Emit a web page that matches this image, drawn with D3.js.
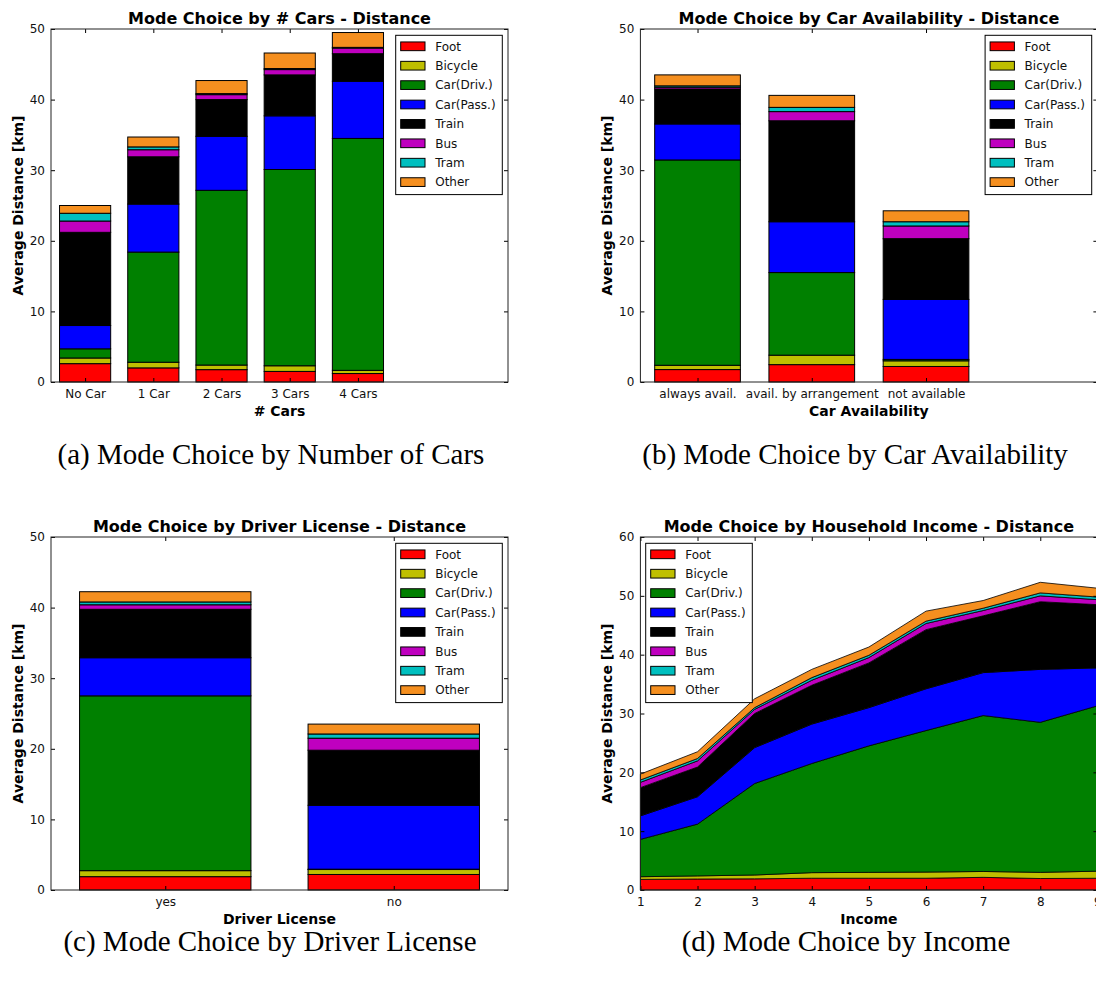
<!DOCTYPE html>
<html>
<head>
<meta charset="utf-8">
<script src="https://cdn.jsdelivr.net/npm/d3@7"></script>
<style>
  body { margin: 0; background: #fff; }
  svg text { font-family: "DejaVu Sans", sans-serif; }
</style>
</head>
<body>
<svg id="fig" width="1096" height="981"></svg>
<script>
// Travel modes, stacked bottom to top, and their fill colours
const modes = ["Foot", "Bicycle", "Car(Driv.)", "Car(Pass.)", "Train", "Bus", "Tram", "Other"];
const modeColors = ["#ff0000", "#bfbf00", "#008000", "#0000ff", "#000000", "#bf00bf", "#00bfbf", "#f58f1f"];

// (a) average distance [km] by number of cars; one row per mode
const carCategories = ["No Car", "1 Car", "2 Cars", "3 Cars", "4 Cars"];
const carValues = [
  [2.6, 2.0, 1.75, 1.5, 1.2],        // Foot
  [0.8, 0.8, 0.65, 0.8, 0.45],       // Bicycle
  [1.3, 15.6, 24.75, 27.8, 32.85],   // Car(Driv.)
  [3.3, 6.8, 7.65, 7.6, 8.1],        // Car(Pass.)
  [13.2, 6.7, 5.2, 5.8, 3.9],        // Train
  [1.6, 1.0, 0.7, 0.75, 0.8],        // Bus
  [1.1, 0.4, 0.15, 0.15, 0.1],       // Tram
  [1.1, 1.4, 1.85, 2.2, 2.1]         // Other
];

// (b) by car availability
const availCategories = ["always avail.", "avail. by arrangement", "not available"];
const availValues = [
  [1.76, 2.46, 2.2],
  [0.61, 1.34, 0.8],
  [29.08, 11.7, 0.2],
  [5.1, 7.2, 8.5],
  [4.95, 14.3, 8.6],
  [0.25, 1.3, 1.8],
  [0.2, 0.6, 0.6],
  [1.55, 1.7, 1.55]
];

// (c) by driver license
const licenseCategories = ["yes", "no"];
const licenseValues = [
  [1.89, 2.2],
  [0.85, 0.7],
  [24.76, 0.05],
  [5.4, 9.05],
  [6.86, 7.8],
  [0.64, 1.7],
  [0.4, 0.6],
  [1.45, 1.4]
];

// (d) by household income class
const incomeLevels = [1, 2, 3, 4, 5, 6, 7, 8, 9];
const incomeValues = [
  [1.8, 1.87, 1.9, 2.0, 2.0, 2.0, 2.15, 1.95, 2.0],
  [0.46, 0.53, 0.65, 0.95, 1.0, 1.05, 1.0, 1.05, 1.2],
  [6.34, 8.8, 15.55, 18.55, 21.5, 24.05, 26.5, 25.5, 28.1],
  [4.0, 4.65, 6.1, 6.7, 6.5, 7.1, 7.3, 9.0, 6.45],
  [4.8, 5.05, 5.8, 6.6, 7.6, 10.05, 9.65, 11.5, 10.75],
  [0.9, 1.05, 0.7, 0.85, 0.9, 1.05, 0.9, 1.0, 0.85],
  [0.4, 0.4, 0.3, 0.45, 0.4, 0.4, 0.4, 0.5, 0.45],
  [1.0, 1.15, 1.5, 1.4, 1.4, 1.7, 1.3, 1.8, 1.5]
];

const svg = d3.select("#fig");
svg.append("rect").attr("width", 1096).attr("height", 981).attr("fill", "#fff");

const W = 457, H = 353;

function makeAxes(opt) {
  const g = svg.append("g").attr("transform", `translate(${opt.left},${opt.top})`);
  const x = d3.scaleLinear().domain(opt.xDomain).range([0, W]);
  const y = d3.scaleLinear().domain([0, opt.yMax]).range([H, 0]);
  return { g, x, y };
}

function rowsFrom(keys, values, keyName) {
  return keys.map((k, i) => {
    const r = { [keyName]: k, index: i };
    modes.forEach((m, j) => { r[m] = values[j][i]; });
    return r;
  });
}

function decorate(g, x, y, opt, xTickValues, xFormat) {
  const yTicks = d3.range(0, opt.yMax + 1, 10);
  g.append("g")
    .call(d3.axisLeft(y).tickValues(yTicks).tickSize(-4).tickPadding(6).tickFormat(d3.format("d")));
  g.append("g").attr("transform", `translate(${W},0)`)
    .call(d3.axisRight(y).tickValues(yTicks).tickSize(-4).tickFormat(""));
  g.append("g")
    .call(d3.axisTop(x).tickValues(xTickValues).tickSize(-4).tickFormat(""));
  g.append("g").attr("transform", `translate(0,${H})`)
    .call(d3.axisBottom(x).tickValues(xTickValues).tickSize(-4).tickPadding(7).tickFormat(xFormat));
  g.selectAll(".domain").remove();
  g.selectAll(".tick line").attr("stroke", "#000").attr("stroke-width", 1);
  g.selectAll(".tick text")
    .attr("font-size", 12).attr("font-family", "DejaVu Sans").attr("fill", "#111");

  g.append("rect").attr("width", W).attr("height", H)
    .attr("fill", "none").attr("stroke", "#222").attr("stroke-width", 1);

  g.append("text").attr("x", W / 2).attr("y", -5)
    .attr("text-anchor", "middle").attr("font-size", 16).attr("font-weight", "bold")
    .text(opt.title);
  g.append("text").attr("x", W / 2).attr("y", H + 34)
    .attr("text-anchor", "middle").attr("font-size", 14).attr("font-weight", "bold")
    .text(opt.xLabel);
  g.append("text").attr("transform", `translate(-28,${H / 2}) rotate(-90)`)
    .attr("text-anchor", "middle").attr("font-size", 14).attr("font-weight", "bold")
    .text("Average Distance [km]");

  // legend box
  const lw = 106.6, lh = 159.3;
  const lx = opt.legendLeft ? 5.3 : W - 5.7 - lw;
  const lg = g.append("g").attr("transform", `translate(${lx},6.3)`);
  lg.append("rect").attr("width", lw).attr("height", lh)
    .attr("fill", "#fff").attr("stroke", "#000").attr("stroke-width", 1);
  const item = lg.selectAll("g.item").data(modes).join("g")
    .attr("transform", (d, i) => `translate(0,${11 + i * 19.4})`);
  item.append("rect").attr("x", 5).attr("y", -4.35).attr("width", 24.3).attr("height", 8.7)
    .attr("fill", (d, i) => modeColors[i]).attr("stroke", "#000").attr("stroke-width", 1);
  item.append("text").attr("x", 39.5).attr("dy", "0.35em")
    .attr("font-size", 12).attr("fill", "#111").text(d => d);
}

function barPanel(opt) {
  const { g, x, y } = makeAxes(opt);
  const rows = rowsFrom(opt.categories, opt.values, "category");
  const series = d3.stack().keys(modes)(rows);
  const bw = x(0.75) - x(0);
  g.selectAll("g.series").data(series).join("g")
    .attr("fill", (d, i) => modeColors[i])
    .selectAll("rect").data(d => d).join("rect")
    .attr("x", d => x(d.data.index) - bw / 2)
    .attr("width", bw)
    .attr("y", d => y(d[1]))
    .attr("height", d => y(d[0]) - y(d[1]))
    .attr("stroke", "#000").attr("stroke-width", 1);
  decorate(g, x, y, opt, d3.range(opt.categories.length), i => opt.categories[i]);
}

function areaPanel(opt) {
  const { g, x, y } = makeAxes(opt);
  const rows = rowsFrom(opt.levels, opt.values, "income");
  const series = d3.stack().keys(modes)(rows);
  const area = d3.area()
    .x(d => x(d.data.income))
    .y0(d => y(d[0]))
    .y1(d => y(d[1]));
  g.selectAll("path.layer").data(series).join("path")
    .attr("class", "layer")
    .attr("d", area)
    .attr("fill", (d, i) => modeColors[i])
    .attr("stroke", "#000").attr("stroke-width", 0.8);
  decorate(g, x, y, opt, opt.levels, d3.format("d"));
}

barPanel({
  left: 51, top: 29, xDomain: [-0.5, 6.2], yMax: 50,
  categories: carCategories, values: carValues,
  title: "Mode Choice by # Cars - Distance", xLabel: "# Cars"
});
barPanel({
  left: 640.4, top: 29, xDomain: [-0.5, 3.5], yMax: 50,
  categories: availCategories, values: availValues,
  title: "Mode Choice by Car Availability - Distance", xLabel: "Car Availability"
});
barPanel({
  left: 51, top: 537, xDomain: [-0.5, 1.5], yMax: 50,
  categories: licenseCategories, values: licenseValues,
  title: "Mode Choice by Driver License - Distance", xLabel: "Driver License"
});
areaPanel({
  left: 640.4, top: 537, xDomain: [1, 9], yMax: 60, legendLeft: true,
  levels: incomeLevels, values: incomeValues,
  title: "Mode Choice by Household Income - Distance", xLabel: "Income"
});

// sub-figure captions
const captions = [
  { text: "(a) Mode Choice by Number of Cars", x: 271, y: 464 },
  { text: "(b) Mode Choice by Car Availability", x: 855, y: 464 },
  { text: "(c) Mode Choice by Driver License", x: 270, y: 951 },
  { text: "(d) Mode Choice by Income", x: 846, y: 951 }
];
svg.selectAll("text.caption").data(captions).join("text")
  .attr("class", "caption")
  .attr("x", d => d.x).attr("y", d => d.y)
  .attr("text-anchor", "middle")
  .attr("font-size", 29)
  .style("font-family", "'Liberation Serif', 'DejaVu Serif', serif")
  .attr("fill", "#000")
  .text(d => d.text);
</script>
</body>
</html>
